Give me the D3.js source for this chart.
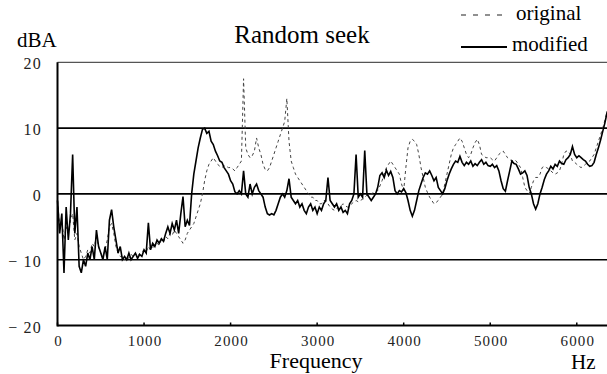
<!DOCTYPE html>
<html><head><meta charset="utf-8">
<script src="https://cdn.jsdelivr.net/npm/d3@7"></script>
<style>
html,body{margin:0;padding:0;background:#fff;}
svg text{font-family:"Liberation Serif","Times New Roman",serif;}
</style></head>
<body>
<svg id="chart" width="607" height="374"></svg>
<script>
// frequency step (Hz) between samples
const freqStep = 25;
const modified = [
 -1,-6,-3,-12,-2,-7,-3,6,-6,-2,-11,-12,-10,-11,-9,-10,-8,-10,-5.5,-8,
 -9,-10,-8,-10,-4,-2.4,-5,-7,-9,-8,-10,-9.5,-10,-9,-10,-9.5,-9,-9.8,-9.2,-9.5,
 -8.5,-9,-4.4,-8.5,-7.5,-8,-7,-7.5,-6.8,-7.2,-6,-5,-6,-4.5,-5.5,-4,-6,-3,-0.4,-5,
 -4,-4.8,0,3,5,7,8.5,9.8,10,9.2,9.5,8,7.5,6.5,5.8,5,4.8,4,3.5,3,
 2,1.5,0.3,0,0.5,0,3.5,0,-0.5,1.5,0,1,1.5,0.5,0,-0.5,-2,-3,-3.2,-3,
 -3.2,-2.5,-1.5,-0.5,0,-0.5,0.5,2.3,-0.5,-1,-1.5,-1,-2,-1.5,-2.5,-3,-2,-1.5,-2.5,-2,
 -3,-2,-2.5,-1.5,-1,2.5,-1,-1.5,-2,-1.5,-2.5,-2,-2.8,-2.5,-3,-1.5,-1,0,6,-0.5,
 0,-0.5,6.6,0,-0.5,-1,-0.5,0,1,2.8,3.2,2.5,3.6,2.8,3.4,2.5,0.5,0,0.5,0.3,
 0.8,0.2,-1,-2.5,-3.4,-2.5,-1,0.5,1.5,2.5,3.2,3,3.5,2.8,2,2.5,1,0.5,0,0.8,
 2,3,3.8,4.5,5,4.8,5.7,4.8,4.3,4.8,4.5,5,4.2,4.6,4.3,4.8,5.2,4.5,4.8,4.3,
 4.2,4.5,4,4.3,3.5,2,0.8,0.4,2,3.5,5,4.6,4.5,3.8,3,3.2,3.5,2.8,1,0,
 -1.5,-2.3,-1.5,0,1,2.2,3,3.5,4.2,3.8,4.5,4.2,5,4.6,4.5,5.2,5.5,6,7.2,6,
 5.5,5.8,5.5,5.2,5,4.5,4.2,4.3,4.8,6,7,8.2,9.5,10.8,12.4,13];
const original = [
 -1,-5,-4,-7,-5,-6,-4,-3,-7,-6,-8,-9,-10,-9.5,-8.5,-9,-7.5,-8,-6.5,-8,
 -9,-9.5,-8.5,-7,-5,-4.5,-6,-8,-9,-9.5,-9.5,-10,-9.5,-9.8,-9.2,-9.5,-9,-9.5,-9,-8.8,
 -8.5,-8.8,-8,-8.5,-8.2,-7.8,-7.5,-7.8,-7,-7.3,-6.5,-6.8,-6,-6.3,-5.5,-6,-6.5,-7,-7.5,-7,
 -6,-5.5,-5,-4.5,-3.5,-2.5,-1.5,0,2,3.5,4.5,5,5.5,5,4.5,4.2,4,4.3,4.2,4,
 4,3.8,3.5,4,4.5,5,17.5,7,6,5.5,5.8,6.5,8.5,7,6,4.5,3.7,3.5,4,5,
 6,7,8,9,10,11,14.5,8,5,4,3,2.5,2,1.5,1,0.5,0,-0.5,-0.5,-1,
 -1,-1.5,-1.5,-1,-1,-1.5,-2,-2.3,-2.5,-2.2,-2,-1.8,-1.5,-1.8,-2,-1.8,-1.5,-1.2,-1,-1.2,
 -1,-0.8,-0.5,-0.2,0,0,0.2,0.3,0.5,1.2,2,3,4,4.5,5,4.5,4,3.5,3,1.5,
 0.5,4,7,8,8.3,8,7.5,6,4,2.5,1,0.2,-0.5,-1,-1.5,-1.3,-1,-0.5,0,1.5,
 3,4.5,6,7,7.5,8,8.5,8,7,6,5.5,6,7,7.8,8.3,7.5,6,5.8,5.5,5.5,
 5.5,5.2,5,5.5,6,6.3,6.5,6,5.5,5.2,5,5.2,5,4.5,4,2.5,1,0.5,0,1,
 2,2.5,2.5,3,4,4.2,4,3.8,3.5,3.2,3,3.2,3.5,4.5,6,6.5,6.5,6,5,4.8,
 4.5,4.2,4,4.2,4.5,4.8,5,5.5,6,7,8,9,10,11.2,12.5,13];
const xTicks = [0,1000,2000,3000,4000,5000,6000];
const yTicks = [20,10,0,-10,-20];
const yTickLabels = ["20","10","0","− 10","− 20"];
const gridValues = [10,0,-10];
const legendItems = ["original","modified"];

const svg = d3.select("#chart");
const x = d3.scaleLinear().domain([0,6400]).range([57.5,611.4]);
const y = d3.scaleLinear().domain([-20,20]).range([325.5,62.3]);

const BASE = 40;
function label(xx, yy, txt, size, anchor, fill, spacing){
  const g = svg.append("g").attr("transform",`translate(${xx},${yy}) scale(${size/BASE})`);
  g.append("text").attr("x",0).attr("y",0).attr("font-size",BASE)
    .attr("text-anchor",anchor||"start").attr("fill",fill||"#000")
    .attr("letter-spacing",spacing||0).text(txt);
}

// top border at 20
svg.append("line").attr("x1",x(0)).attr("x2",607).attr("y1",y(20)).attr("y2",y(20))
  .attr("stroke","#555").attr("stroke-width",1.2);
// gridlines
svg.selectAll(".grid").data(gridValues).enter().append("line")
  .attr("x1",x(0)).attr("x2",607).attr("y1",d=>y(d)).attr("y2",d=>y(d))
  .attr("stroke","#000").attr("stroke-width",1.6);

const line = d3.line().x((d,i)=>x(i*freqStep)).y(d=>y(d));
svg.append("path").datum(original).attr("d",line).attr("fill","none")
  .attr("stroke","#444").attr("stroke-width",1).attr("stroke-dasharray","3,3");
svg.append("path").datum(modified).attr("d",line).attr("fill","none")
  .attr("stroke","#000").attr("stroke-width",1.6);

// axes
svg.append("line").attr("x1",x(0)).attr("x2",x(0)).attr("y1",y(20)).attr("y2",y(-20)+1)
  .attr("stroke","#000").attr("stroke-width",2);
svg.append("line").attr("x1",x(0)).attr("x2",607).attr("y1",y(-20)).attr("y2",y(-20))
  .attr("stroke","#000").attr("stroke-width",2);
svg.selectAll(".xt").data(xTicks).enter().append("line")
  .attr("x1",d=>x(d)).attr("x2",d=>x(d)).attr("y1",y(-20)).attr("y2",y(-20)-3)
  .attr("stroke","#000").attr("stroke-width",1.5);
xTicks.forEach(d=>label(x(d)+1,346,String(d),15,"middle","#222",3));
yTicks.forEach((d,i)=>label(42,y(d)+7,yTickLabels[i],16,"end","#222",3));

// titles
label(17,47,"dBA",21);
label(302,43,"Random seek",25,"middle");
label(316,368,"Frequency",22,"middle");
label(571,369,"Hz",21);

// legend
svg.append("line").attr("x1",461).attr("x2",507).attr("y1",15).attr("y2",15)
  .attr("stroke","#222").attr("stroke-width",1.2).attr("stroke-dasharray","5,7");
svg.append("line").attr("x1",461).attr("x2",507).attr("y1",47).attr("y2",47)
  .attr("stroke","#000").attr("stroke-width",2);
legendItems.forEach((d,i)=>label(i?512:516, i?51:20, d, 21));
</script>
</body></html>
